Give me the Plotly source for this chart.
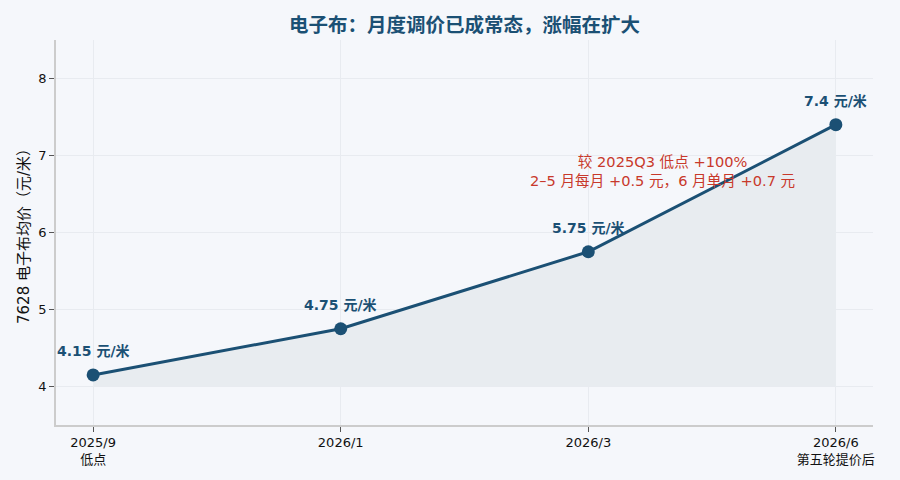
"""电子布月度调价走势图"""
import plotly.graph_objects as go

periods = ['2025/9<br>低点', '2026/1', '2026/3', '2026/6<br>第五轮提价后']
prices = [4.15, 4.75, 5.75, 7.4]
price_labels = ['4.15 元/米', '4.75 元/米', '5.75 元/米', '7.4 元/米']
baseline = [4, 4, 4, 4]

NAVY = '#1b5074'
BG = '#f5f7fb'
FONT = 'DejaVu Sans, Noto Sans CJK SC, sans-serif'

x_idx = list(range(len(periods)))

fig = go.Figure()
fig.add_trace(go.Scatter(x=x_idx, y=baseline, mode='lines',
                         line=dict(width=0), hoverinfo='skip', showlegend=False))
fig.add_trace(go.Scatter(x=x_idx, y=prices, mode='lines+markers',
                         fill='tonexty', fillcolor='rgb(232,236,240)',
                         line=dict(color=NAVY, width=3),
                         marker=dict(size=13, color=NAVY),
                         showlegend=False))

# 数据标签
for i, (p, t) in enumerate(zip(prices, price_labels)):
    fig.add_annotation(x=i, y=p, text='<b>%s</b>' % t, showarrow=False,
                       yshift=24, font=dict(size=14, color=NAVY))

fig.add_annotation(x=2.3, y=6.8, xref='x', yref='y',
                   text='较 2025Q3 低点 +100%<br>2–5 月每月 +0.5 元，6 月单月 +0.7 元',
                   showarrow=False, align='center',
                   font=dict(size=14.6, color='#c8392b'))

fig.update_layout(
    title=dict(text='<b>电子布：月度调价已成常态，涨幅在扩大</b>', x=0.5, xref='paper',
               y=0.948, xanchor='center', yanchor='middle',
               font=dict(size=19.5, color=NAVY)),
    width=900, height=480,
    paper_bgcolor=BG, plot_bgcolor=BG,
    font=dict(family=FONT, size=13, color='#222'),
    margin=dict(l=56, r=27, t=40, b=55),
    xaxis=dict(range=[-0.15, 3.15], tickmode='array', tickvals=x_idx, ticktext=periods,
               showgrid=True, gridcolor='#e8ebf0', zeroline=False,
               showline=True, linecolor='#cccccc', linewidth=1.5,
               ticks='outside', ticklen=5, tickcolor='#555',
               tickfont=dict(size=13, color='#111'), automargin=False),
    yaxis=dict(range=[3.5, 8.5], dtick=1,
               showgrid=True, gridcolor='#e8ebf0', zeroline=False,
               showline=True, linecolor='#cccccc', linewidth=1.5,
               ticks='outside', ticklen=5, tickcolor='#555',
               tickfont=dict(size=13, color='#111'), automargin=False,
               title=dict(text='7628 电子布均价（元/米）', font=dict(size=15, color='#111'),
                          standoff=5)),
)

fig.write_html('out.html', config={'displayModeBar': False},
               post_script="document.body.style.margin='0';")
